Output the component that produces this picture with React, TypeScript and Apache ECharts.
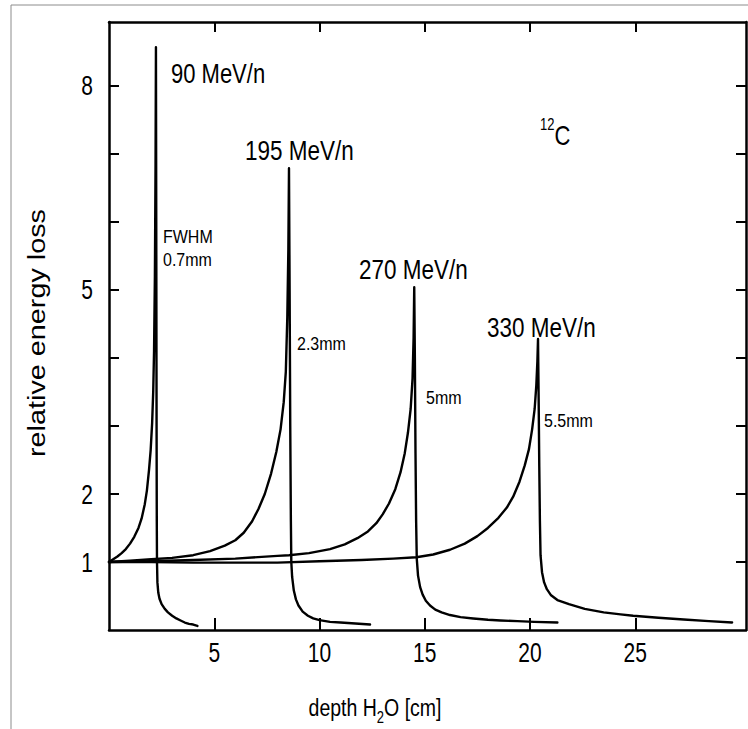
import React, { useEffect, useRef } from 'react';
import * as echarts from 'echarts';

// Depth in water [cm] and relative energy loss for the four 12C beams
const depth90 = [0, 0.2, 0.4, 0.6, 0.8, 1.0, 1.2, 1.4, 1.55, 1.7, 1.8, 1.9, 1.98, 2.05, 2.1, 2.14, 2.18, 2.21, 2.23,
  2.245, 2.26, 2.27, 2.28, 2.3, 2.34, 2.4, 2.5, 2.65, 2.8, 3.0, 3.2, 3.4, 3.6, 3.8, 4.0, 4.2];
const loss90 = [1, 1.04, 1.08, 1.13, 1.19, 1.27, 1.37, 1.5, 1.64, 1.85, 2.05, 2.35, 2.65, 3.05, 3.5, 4.1, 5.2, 6.8, 8.57,
  6.0, 3.0, 1.6, 1.0, 0.7, 0.55, 0.46, 0.38, 0.31, 0.26, 0.21, 0.17, 0.14, 0.11, 0.09, 0.08, 0.06];

const depth195 = [0, 1, 2, 3, 4, 4.8, 5.5, 6.0, 6.4, 6.8, 7.1, 7.4, 7.7, 7.95, 8.15, 8.3, 8.4, 8.47, 8.52, 8.55,
  8.58, 8.61, 8.64, 8.66, 8.7, 8.78, 8.88, 9.0, 9.2, 9.45, 9.7, 10.0, 10.5, 11.0, 11.7, 12.4];
const loss195 = [1, 1.02, 1.04, 1.06, 1.1, 1.16, 1.24, 1.32, 1.43, 1.6, 1.78, 2.0, 2.3, 2.62, 2.95, 3.35, 3.8, 4.6, 5.6, 6.79,
  5.0, 3.0, 1.6, 1.0, 0.78, 0.58, 0.45, 0.36, 0.27, 0.21, 0.17, 0.145, 0.12, 0.11, 0.095, 0.08];

const depth270 = [0, 2, 4, 6, 8, 8.55, 9.5, 10.5, 11.2, 11.8, 12.3, 12.7, 13.0, 13.3, 13.6, 13.85, 14.05, 14.2, 14.33, 14.42, 14.47, 14.5,
  14.53, 14.56, 14.59, 14.62, 14.68, 14.78, 14.9, 15.05, 15.25, 15.5, 15.8, 16.2, 16.7, 17.3, 18.0, 18.6, 19.4, 20.2, 21.3];
const loss270 = [1, 1.01, 1.03, 1.05, 1.09, 1.1, 1.13, 1.19, 1.26, 1.35, 1.45, 1.57, 1.7, 1.86, 2.07, 2.32, 2.6, 2.9, 3.25, 3.7, 4.3, 5.04,
  4.0, 2.6, 1.6, 1.05, 0.8, 0.63, 0.52, 0.43, 0.36, 0.3, 0.26, 0.22, 0.19, 0.17, 0.15, 0.14, 0.13, 0.12, 0.11];

const depth330 = [0, 2, 4, 6, 8, 10, 12, 13.5, 14.6, 15.4, 16.2, 16.9, 17.5, 18.0, 18.5, 18.9, 19.2, 19.5, 19.75, 19.95, 20.1, 20.22, 20.3, 20.35, 20.38,
  20.41, 20.44, 20.47, 20.5, 20.57, 20.67, 20.8, 21.0, 21.3, 21.85, 22.6, 23.5, 24.3, 24.9, 26.1, 27.3, 28.5, 29.6];
const loss330 = [1, 1.0, 0.99, 0.99, 0.99, 1.01, 1.03, 1.05, 1.07, 1.11, 1.18, 1.27, 1.38, 1.5, 1.65, 1.8, 1.96, 2.18, 2.42, 2.66, 2.95, 3.25, 3.6, 3.95, 4.28,
  3.4, 2.4, 1.6, 1.1, 0.85, 0.7, 0.6, 0.51, 0.44, 0.38, 0.31, 0.26, 0.23, 0.21, 0.18, 0.155, 0.13, 0.11];

const xTicks = [5, 10, 15, 20, 25];
const xTickLabels = ['5', '10', '15', '20', '25'];
const yTicks = [1, 2, 3, 4, 5, 6, 7, 8];
const yLabelValues = [1, 2, 5, 8];
const yTickLabels = ['1', '2', '5', '8'];

const energyLabels = ['90 MeV/n', '195 MeV/n', '270 MeV/n', '330 MeV/n'];
const widthLabels = ['FWHM', '0.7mm', '2.3mm', '5mm', '5.5mm'];

const zip = (xs: number[], ys: number[]) => xs.map((x, i) => [x, ys[i]]);

const SANS = '"Liberation Sans", Arial, Helvetica, sans-serif';

export default function App() {
  const ref = useRef<HTMLDivElement>(null);
  useEffect(() => {
    if (!ref.current) return;
    const chart = echarts.init(ref.current, undefined, { renderer: 'svg' });
    const axisLine = { show: true, onZero: false, lineStyle: { color: '#000', width: 2.5 } };
    const lineSeries = (name: string, xs: number[], ys: number[]) => ({
      name,
      type: 'line',
      data: zip(xs, ys),
      showSymbol: false,
      symbol: 'none',
      smooth: false,
      lineStyle: { color: '#000', width: 2.4, join: 'round', cap: 'round' },
      z: 3,
    });
    const txt = (text: string, x: number, y: number, size: number, sy: number, align = 'left') => ({
      type: 'text',
      x,
      y,
      scaleY: sy,
      style: {
        text,
        fill: '#000',
        font: `${size}px ${SANS}`,
        textAlign: align,
        textVerticalAlign: 'middle',
      },
    });
    const tickStyle = { color: '#000', width: 2 };
    chart.setOption({
      animation: false,
      backgroundColor: '#fff',
      grid: { left: 109, right: 2, top: 22, bottom: 99, containLabel: false },
      xAxis: [
        {
          type: 'value', min: 0, max: 30.26, position: 'bottom', axisLine,
          axisTick: { show: true, inside: true, length: 12, customValues: xTicks, lineStyle: tickStyle },
          axisLabel: { show: false },
          splitLine: { show: false },
        },
        {
          type: 'value', min: 0, max: 30.26, position: 'top', axisLine,
          axisTick: { show: true, inside: true, length: 10, customValues: xTicks, lineStyle: tickStyle },
          axisLabel: { show: false },
          splitLine: { show: false },
        },
      ],
      yAxis: [
        {
          type: 'value', min: 0, max: 8.94, position: 'left', axisLine,
          axisTick: { show: true, inside: true, length: 10, customValues: yTicks, lineStyle: tickStyle },
          axisLabel: { show: false },
          splitLine: { show: false },
        },
        {
          type: 'value', min: 0, max: 8.94, position: 'right', axisLine,
          axisTick: { show: true, inside: true, length: 10, customValues: yTicks, lineStyle: tickStyle },
          axisLabel: { show: false },
          splitLine: { show: false },
        },
      ],
      series: [
        lineSeries(energyLabels[0], depth90, loss90),
        lineSeries(energyLabels[1], depth195, loss195),
        lineSeries(energyLabels[2], depth270, loss270),
        lineSeries(energyLabels[3], depth330, loss330),
      ],
    });

    const px = (v: number) => chart.convertToPixel({ xAxisIndex: 0 }, v) as number;
    const py = (v: number) => chart.convertToPixel({ yAxisIndex: 0 }, v) as number;
    const baseY = py(0);
    const leftX = px(0);

    const tickLabelEls = [
      ...xTicks.map((v, i) => txt(xTickLabels[i], px(v), baseY + 22, 21, 1.3, 'center')),
      ...yLabelValues.map((v, i) => txt(yTickLabels[i], leftX - 16, py(v), 21, 1.3, 'right')),
    ];

    chart.setOption({
      graphic: [
        { type: 'rect', shape: { x: 11, y: 5, width: 800, height: 800 }, style: { fill: 'none', stroke: '#8c8c8c', lineWidth: 1 }, z: -1 },
        ...tickLabelEls,
        txt(energyLabels[0], 171, 73, 22, 1.25),
        txt(energyLabels[1], 245, 150, 22.5, 1.25),
        txt(energyLabels[2], 359, 269, 22.5, 1.25),
        txt(energyLabels[3], 487, 327, 22.5, 1.25),
        txt(widthLabels[0], 163, 236, 16, 1.2),
        txt(widthLabels[1], 163, 259, 16, 1.2),
        txt(widthLabels[2], 297, 343, 16, 1.2),
        txt(widthLabels[3], 426, 397, 16, 1.2),
        txt(widthLabels[4], 544, 420, 16, 1.2),
        {
          type: 'text',
          x: 540,
          y: 133,
          scaleY: 1.25,
          style: {
            text: '{s|12}{c|C}',
            rich: {
              s: { fontSize: 13, fontFamily: SANS, verticalAlign: 'top', lineHeight: 26, fill: '#000' },
              c: { fontSize: 22, fontFamily: SANS, verticalAlign: 'bottom', lineHeight: 26, fill: '#000' },
            },
            textAlign: 'left',
            textVerticalAlign: 'middle',
          },
        },
        {
          type: 'text',
          x: 37,
          y: 333,
          rotation: Math.PI / 2,
          scaleX: 1.2,
          style: {
            text: 'relative energy loss',
            fill: '#000',
            font: `24px ${SANS}`,
            textAlign: 'center',
            textVerticalAlign: 'middle',
          },
        },
        {
          type: 'text',
          x: 375,
          y: 708,
          scaleY: 1.25,
          style: {
            text: '{a|depth H}{s|2}{a|O [cm]}',
            rich: {
              a: { fontSize: 19.5, fontFamily: SANS, lineHeight: 28, verticalAlign: 'middle', fill: '#000' },
              s: { fontSize: 13, fontFamily: SANS, lineHeight: 13, verticalAlign: 'bottom', fill: '#000' },
            },
            textAlign: 'center',
            textVerticalAlign: 'middle',
          },
        },
      ],
    });
    return () => chart.dispose();
  }, []);
  return (
    <div
      ref={ref}
      style={{ position: 'fixed', left: 0, top: 0, width: 748, height: 729, background: '#fff' }}
    />
  );
}
